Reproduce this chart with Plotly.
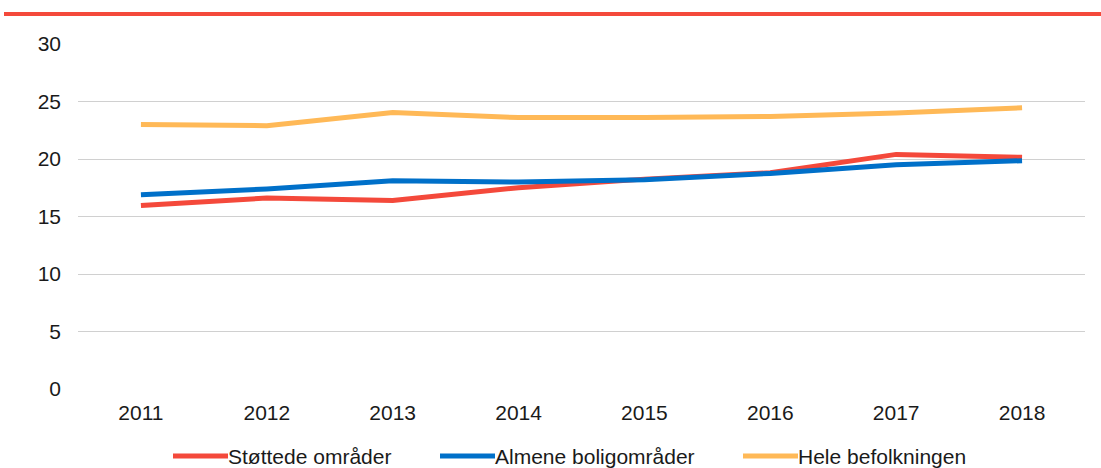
import plotly.graph_objects as go

years = ["2011", "2012", "2013", "2014", "2015", "2016", "2017", "2018"]
stottede = [15.95, 16.6, 16.4, 17.5, 18.25, 18.8, 20.4, 20.15]
almene = [16.9, 17.4, 18.1, 18.0, 18.2, 18.75, 19.5, 19.85]
hele = [23.0, 22.9, 24.05, 23.6, 23.6, 23.7, 24.0, 24.45]

series_names = ["Støttede områder", "Almene boligområder", "Hele befolkningen"]
colors = ["#F4493B", "#0070C9", "#FFB957"]

# legend layout (pixel positions of legend entries)
PLOT_L, PLOT_W, PLOT_B, PLOT_H = 78, 1007, 389, 345
legend_line_px = [(173, 228), (440, 495), (743, 798)]
legend_y_px = 456

def px_x(p):
    return (p - PLOT_L) / PLOT_W

def px_y(p):
    return (PLOT_B - p) / PLOT_H

fig = go.Figure()
for name, vals, col in zip(series_names, [stottede, almene, hele], colors):
    fig.add_trace(go.Scatter(x=years, y=vals, mode="lines", name=name,
                             line=dict(color=col, width=5), showlegend=False))

# top red rule
fig.add_shape(type="line", xref="paper", yref="paper",
              x0=px_x(4), x1=px_x(1101), y0=px_y(14), y1=px_y(14),
              line=dict(color="#F4493B", width=4))

# manual legend
for name, col, (a, b) in zip(series_names, colors, legend_line_px):
    fig.add_shape(type="line", xref="paper", yref="paper",
                  x0=px_x(a), x1=px_x(b), y0=px_y(legend_y_px), y1=px_y(legend_y_px),
                  line=dict(color=col, width=5))
    fig.add_annotation(text=name, xref="paper", yref="paper",
                       x=px_x(b - 1), y=px_y(legend_y_px + 1), xanchor="left", yanchor="middle",
                       showarrow=False, borderpad=0, font=dict(size=21, color="#1a1a1a"))

fig.update_layout(
    width=1101, height=468,
    margin=dict(l=78, r=16, t=44, b=79, autoexpand=False),
    paper_bgcolor="white", plot_bgcolor="white",
    font=dict(family="Liberation Sans, Arial, sans-serif", size=21, color="#1a1a1a"),
    showlegend=False,
    xaxis=dict(type="category", range=[-0.5, 7.5], showgrid=False, showline=False,
               zeroline=False, ticks="", ticklabelstandoff=9, tickfont=dict(size=21)),
    yaxis=dict(range=[0, 30], dtick=5, showgrid=True, gridcolor="#d0d0d0", gridwidth=1,
               zeroline=False, showline=False, ticks="", ticklabelstandoff=16,
               tickfont=dict(size=21)),
)

fig.write_html("out.html", config={"displayModeBar": False},
               post_script="document.body.style.margin='0';document.body.style.padding='0';")
